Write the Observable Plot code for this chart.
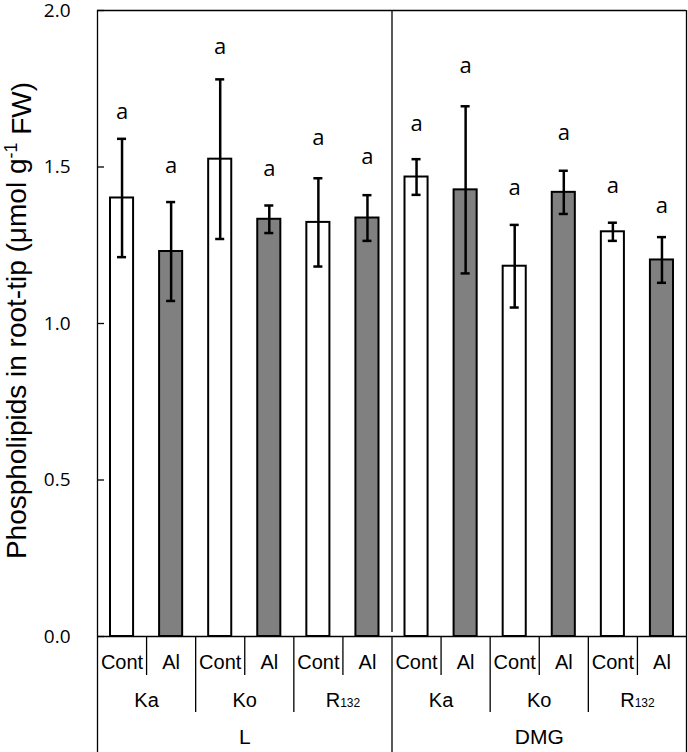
<!DOCTYPE html>
<html>
<head>
<meta charset="utf-8">
<script src="https://cdn.jsdelivr.net/npm/d3@7"></script>
<script src="https://cdn.jsdelivr.net/npm/@observablehq/plot@0.6"></script>
<style>
  html, body { margin: 0; padding: 0; background: #ffffff; }
  #chart { width: 688px; height: 752px; }
</style>
</head>
<body>
<div id="chart"></div>
<script>
// ---- data ----
const groups     = ["L", "L", "L", "L", "L", "L", "DMG", "DMG", "DMG", "DMG", "DMG", "DMG"];
const genotypes  = ["Ka", "Ka", "Ko", "Ko", "R132", "R132", "Ka", "Ka", "Ko", "Ko", "R132", "R132"];
const treatments = ["Cont", "Al", "Cont", "Al", "Cont", "Al", "Cont", "Al", "Cont", "Al", "Cont", "Al"];
const means      = [1.401, 1.230, 1.525, 1.333, 1.323, 1.337, 1.468, 1.427, 1.183, 1.419, 1.293, 1.203];
const ses        = [0.189, 0.158, 0.255, 0.044, 0.141, 0.073, 0.057, 0.267, 0.132, 0.069, 0.029, 0.073];
const letters    = ["a", "a", "a", "a", "a", "a", "a", "a", "a", "a", "a", "a"];
const letterY    = [1.675, 1.502, 1.882, 1.495, 1.594, 1.531, 1.639, 1.824, 1.432, 1.610, 1.438, 1.377];
const yTicks     = [0, 0.5, 1.0, 1.5, 2.0];
const yLabel     = "Phospholipids in root-tip (μmol g-1 FW)";

// ---- derived tables ----
const data = means.map((m, i) => ({
  i, group: groups[i], genotype: genotypes[i], treatment: treatments[i],
  mean: m, se: ses[i], letter: letters[i], ly: letterY[i]
}));
const treatSeps = data.filter(d => d.treatment === "Cont").map(d => d.i + 0.5);
const genoSeps = [], groupSeps = [];
for (let i = 0; i < data.length - 1; i++) {
  if (groups[i] !== groups[i + 1]) groupSeps.push(i + 0.5);
  else if (genotypes[i] !== genotypes[i + 1]) genoSeps.push(i + 0.5);
}
function runs(keyFn) {
  const out = [];
  data.forEach(d => {
    const k = keyFn(d);
    const last = out[out.length - 1];
    if (last && last.key === k) last.idx.push(d.i);
    else out.push({key: k, label: k.split("|").pop(), idx: [d.i]});
  });
  return out.map(r => ({label: r.label, x: d3.mean(r.idx)}));
}
const genoLabels = runs(d => d.group + "|" + d.genotype);
const groupLabels = runs(d => d.group);

// ---- style constants ----
const barHalf = 0.235;
const capHalf = 0.092;
const sans = "'Liberation Sans', Arial, sans-serif";
const calib = "'Open Sans', 'Noto Sans', sans-serif";
const lineW = 1.3;

const chart = Plot.plot({
  width: 688,
  height: 752,
  marginLeft: 97,
  marginRight: 2,
  marginTop: 10,
  marginBottom: 0,
  x: {domain: [-0.5, 11.5], range: [97, 686], axis: null},
  y: {domain: [0, 2], range: [636, 10], axis: null},
  style: {background: "#ffffff", color: "#000", fontFamily: sans, overflow: "visible"},
  marks: [
    // bars
    Plot.rectY(data, {
      x1: d => d.i - barHalf, x2: d => d.i + barHalf, y: "mean",
      fill: d => d.treatment === "Cont" ? "#ffffff" : "#808080",
      stroke: "#000", strokeWidth: 2
    }),
    // error bars
    Plot.ruleX(data, {x: "i", y1: d => d.mean - d.se, y2: d => d.mean + d.se, stroke: "#000", strokeWidth: 2.5}),
    Plot.ruleY(data, {y: d => d.mean + d.se, x1: d => d.i - capHalf, x2: d => d.i + capHalf, stroke: "#000", strokeWidth: 2.5}),
    Plot.ruleY(data, {y: d => d.mean - d.se, x1: d => d.i - capHalf, x2: d => d.i + capHalf, stroke: "#000", strokeWidth: 2.5}),
    // significance letters
    Plot.text(data, {x: "i", y: "ly", text: "letter", fontSize: 22, fontFamily: calib, fill: "#000"}),
    // frame lines
    Plot.ruleY([2], {stroke: "#000", strokeWidth: lineW}),
    Plot.ruleY([0], {stroke: "#000", strokeWidth: lineW}),
    Plot.ruleX([-0.5, 11.5], {stroke: "#000", strokeWidth: lineW}),
    // divider between groups inside plot
    Plot.ruleX(groupSeps, {y1: 2, y2: 0, insetBottom: 4, stroke: "#000", strokeWidth: lineW}),
    // category axis separators
    Plot.ruleX(groupSeps, {insetTop: 626, stroke: "#000", strokeWidth: lineW}),
    Plot.ruleX(genoSeps, {insetTop: 626, insetBottom: 40, stroke: "#000", strokeWidth: lineW}),
    Plot.ruleX(treatSeps, {insetTop: 626, insetBottom: 77, stroke: "#000", strokeWidth: lineW}),
    // y ticks (inward) and labels
    Plot.tickY(yTicks, {y: d => d, insetRight: 582, stroke: "#000", strokeWidth: lineW}),
    Plot.text(yTicks, {y: d => d, text: d => d.toFixed(1), frameAnchor: "left", dx: -27, textAnchor: "end", fontSize: 19, fontFamily: calib, fill: "#000"}),
    // category labels
    Plot.text(data, {x: "i", y: 0, text: "treatment", dy: 26, fontSize: 20, fill: "#000"}),
    Plot.text(genoLabels, {x: "x", y: 0, text: "label", dy: 64, fontSize: 20, fill: "#000"}),
    Plot.text(groupLabels, {x: "x", y: 0, text: "label", dy: 101, fontSize: 21, fill: "#000"}),
    // y label
    Plot.text([yLabel], {frameAnchor: "left", textAnchor: "middle", dx: -80, dy: -61, rotate: -90, fontSize: 28, fill: "#000"})
  ]
});

document.getElementById("chart").appendChild(chart);

// rich text: subscripts / superscripts
d3.select(chart).selectAll("text").each(function () {
  const t = d3.select(this);
  const s = this.textContent;
  if (s === "R132") {
    t.text(null);
    t.append("tspan").text("R");
    t.append("tspan").attr("font-size", 12).text("132");
  } else if (s === yLabel) {
    t.text(null);
    t.append("tspan").text("Phospholipids in root-tip (μmol g");
    t.append("tspan").attr("font-size", 18).attr("dy", "-0.55em").text("-1");
    t.append("tspan").attr("dy", "0.5em").text(" FW)");
  }
});
</script>
</body>
</html>
